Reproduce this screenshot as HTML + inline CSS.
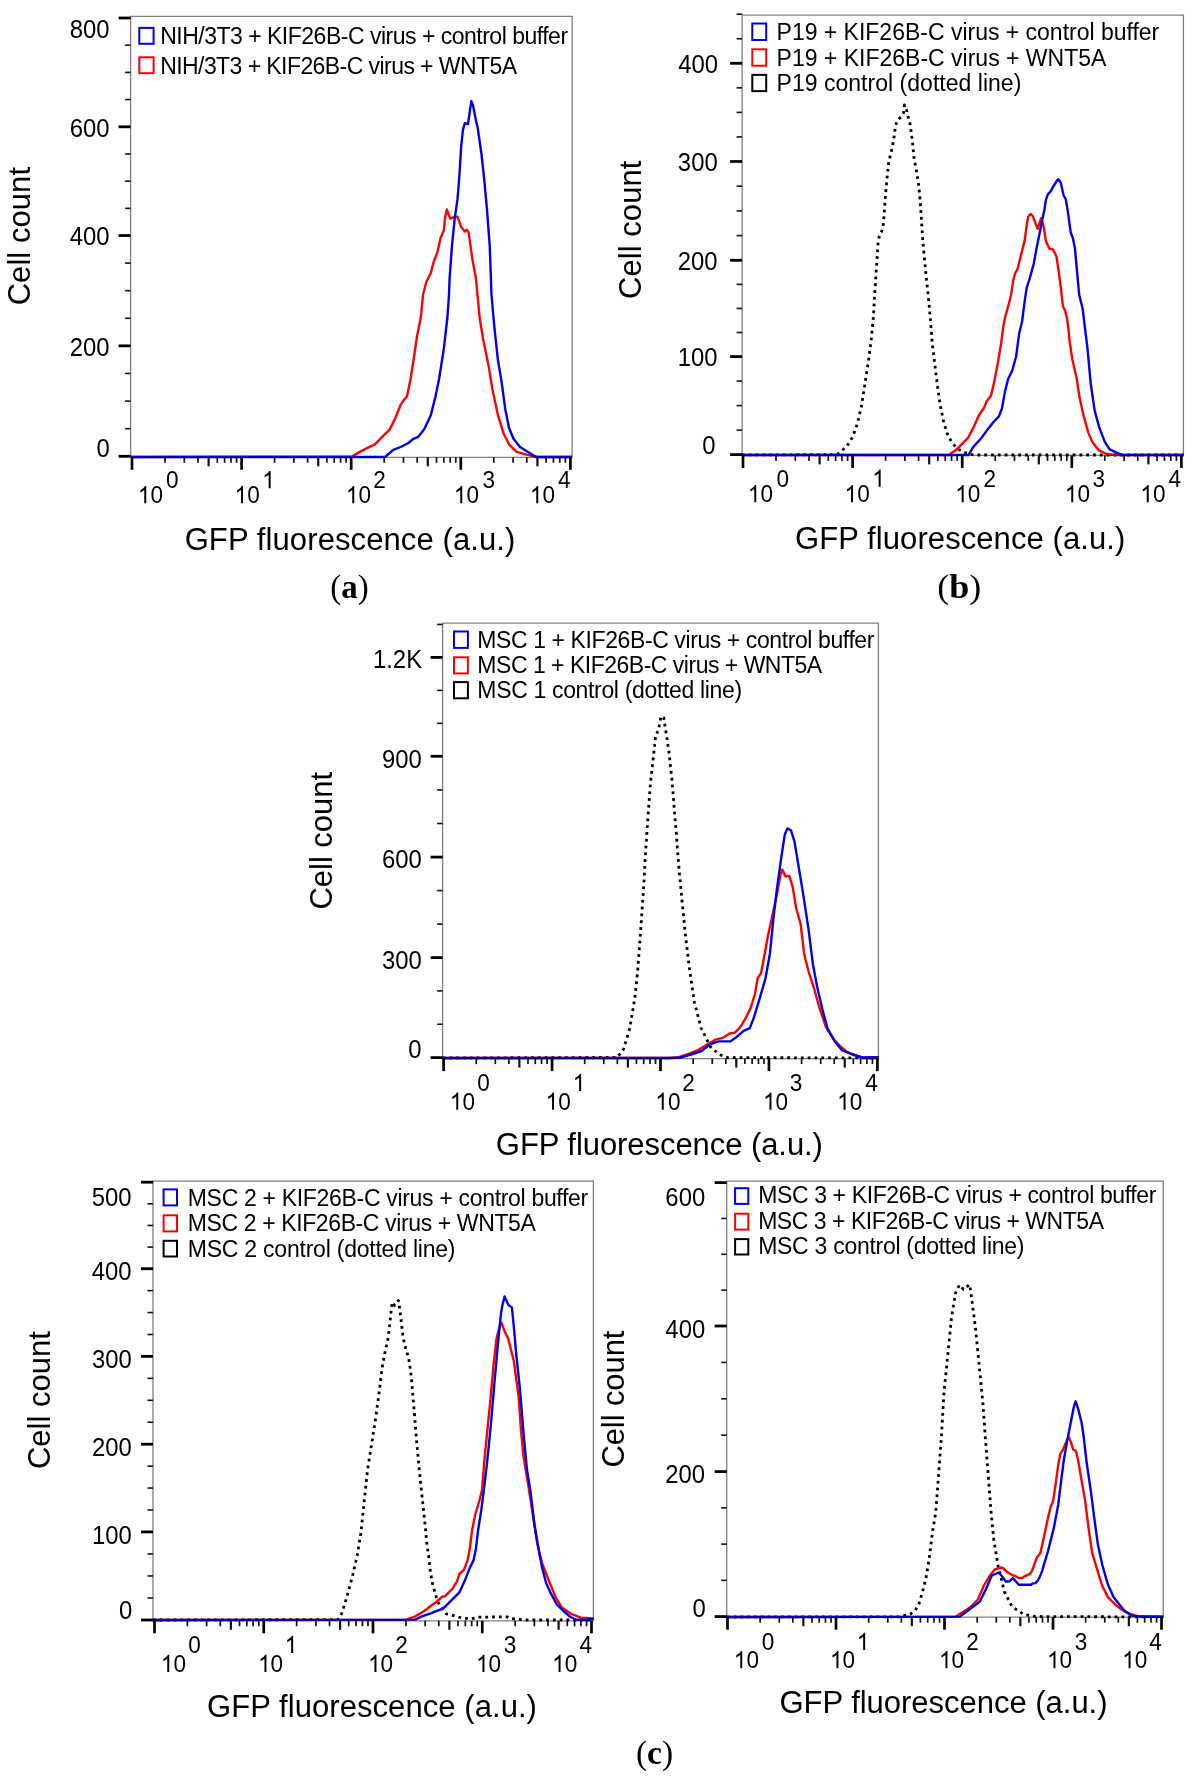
<!DOCTYPE html>
<html><head><meta charset="utf-8"><style>
html,body{margin:0;padding:0;background:#fff;}
svg{display:block;will-change:transform;}
text{font-family:"Liberation Sans", sans-serif;fill:#000;}
</style></head><body>
<svg width="1198" height="1778" viewBox="0 0 1198 1778">
<rect width="1198" height="1778" fill="#fff"/>
<polyline points="131,457 351.9,456.6 360.2,451.6 367.5,447.9 374.9,444.3 382.2,436.9 389.6,429.6 395.1,418.6 400.6,404.8 404.3,399.3 407,396.5 410.7,378.2 414.4,354.3 417.1,335.9 420.8,317.5 423,295 426.3,282 430.9,272.8 433.7,261.8 437.3,252.6 440.6,237.9 443.8,230.6 445,217.7 446.9,209.5 450.2,218.7 454.8,216.8 457.5,216.8 461.2,226.9 464.9,231.5 466.7,229.7 468.6,232.4 472.2,258.1 475.9,278.3 477.5,295 479.6,317.5 483.2,339.6 488.8,367.1 492.4,389.2 497.9,414.9 503.5,433.2 509,444.3 516.3,451.6 525.5,454.4 532.8,456.2 536.5,457 572,457" fill="none" stroke="#ff0000" stroke-width="2.4" stroke-linejoin="round" stroke-linecap="butt"/>
<polyline points="131,457 385,457 393.3,449.8 400.6,447 408,443.3 413.5,438.8 418.1,436.9 424.5,428.7 430.9,414.9 435.5,396.5 439.2,378.2 443.8,348.8 447.4,317.5 449,295 449.6,278.3 452,245.3 454.8,217.7 457.5,199.4 459.4,175.5 461.2,146.1 463,129.6 464.9,123.2 468,124 471.3,101.1 473.1,105.7 475.9,120.4 477.7,127.8 481.4,153.5 484.2,179.2 486.9,208.6 489.7,245.3 491.5,295 494.3,326.7 497.9,359.8 501.6,381.8 505.3,409.4 509,427.7 513.5,438.8 520,447 527.3,451.6 534.7,456.2 537,457 572,457" fill="none" stroke="#0000ee" stroke-width="2.4" stroke-linejoin="round" stroke-linecap="butt"/>
<path d="M130.6,457.3 V16.4 H572.1 V457.3 Z" fill="none" stroke="#000" stroke-opacity="0.5" stroke-width="1.3"/>
<line x1="118.6" y1="456.3" x2="130.6" y2="456.3" stroke="#000" stroke-width="2.8"/>
<line x1="125.1" y1="428.69" x2="130.6" y2="428.69" stroke="#111" stroke-width="1.6"/>
<line x1="125.1" y1="401.08" x2="130.6" y2="401.08" stroke="#111" stroke-width="1.6"/>
<line x1="125.1" y1="373.46" x2="130.6" y2="373.46" stroke="#111" stroke-width="1.6"/>
<line x1="118.6" y1="345.85" x2="130.6" y2="345.85" stroke="#000" stroke-width="2.8"/>
<line x1="125.1" y1="318.27" x2="130.6" y2="318.27" stroke="#111" stroke-width="1.6"/>
<line x1="125.1" y1="290.69" x2="130.6" y2="290.69" stroke="#111" stroke-width="1.6"/>
<line x1="125.1" y1="263.12" x2="130.6" y2="263.12" stroke="#111" stroke-width="1.6"/>
<line x1="118.6" y1="235.54" x2="130.6" y2="235.54" stroke="#000" stroke-width="2.8"/>
<line x1="125.1" y1="208.35" x2="130.6" y2="208.35" stroke="#111" stroke-width="1.6"/>
<line x1="125.1" y1="181.17" x2="130.6" y2="181.17" stroke="#111" stroke-width="1.6"/>
<line x1="125.1" y1="153.99" x2="130.6" y2="153.99" stroke="#111" stroke-width="1.6"/>
<line x1="118.6" y1="126.8" x2="130.6" y2="126.8" stroke="#000" stroke-width="2.8"/>
<line x1="125.1" y1="99.6" x2="130.6" y2="99.6" stroke="#111" stroke-width="1.6"/>
<line x1="125.1" y1="72.4" x2="130.6" y2="72.4" stroke="#111" stroke-width="1.6"/>
<line x1="125.1" y1="45.2" x2="130.6" y2="45.2" stroke="#111" stroke-width="1.6"/>
<line x1="118.6" y1="18" x2="130.6" y2="18" stroke="#000" stroke-width="2.8"/>
<line x1="132" y1="457.3" x2="132" y2="469.8" stroke="#000" stroke-width="2.7"/>
<line x1="164.99" y1="457.3" x2="164.99" y2="462.8" stroke="#111" stroke-width="1.7"/>
<line x1="184.29" y1="457.3" x2="184.29" y2="462.8" stroke="#111" stroke-width="1.7"/>
<line x1="197.99" y1="457.3" x2="197.99" y2="462.8" stroke="#111" stroke-width="1.7"/>
<line x1="208.61" y1="457.3" x2="208.61" y2="466.3" stroke="#111" stroke-width="2.2"/>
<line x1="217.29" y1="457.3" x2="217.29" y2="462.8" stroke="#111" stroke-width="1.7"/>
<line x1="224.62" y1="457.3" x2="224.62" y2="462.8" stroke="#111" stroke-width="1.7"/>
<line x1="230.98" y1="457.3" x2="230.98" y2="462.8" stroke="#111" stroke-width="1.7"/>
<line x1="236.58" y1="457.3" x2="236.58" y2="462.8" stroke="#111" stroke-width="1.7"/>
<line x1="241.6" y1="457.3" x2="241.6" y2="469.8" stroke="#000" stroke-width="2.7"/>
<line x1="274.59" y1="457.3" x2="274.59" y2="462.8" stroke="#111" stroke-width="1.7"/>
<line x1="293.89" y1="457.3" x2="293.89" y2="462.8" stroke="#111" stroke-width="1.7"/>
<line x1="307.59" y1="457.3" x2="307.59" y2="462.8" stroke="#111" stroke-width="1.7"/>
<line x1="318.21" y1="457.3" x2="318.21" y2="466.3" stroke="#111" stroke-width="2.2"/>
<line x1="326.89" y1="457.3" x2="326.89" y2="462.8" stroke="#111" stroke-width="1.7"/>
<line x1="334.22" y1="457.3" x2="334.22" y2="462.8" stroke="#111" stroke-width="1.7"/>
<line x1="340.58" y1="457.3" x2="340.58" y2="462.8" stroke="#111" stroke-width="1.7"/>
<line x1="346.18" y1="457.3" x2="346.18" y2="462.8" stroke="#111" stroke-width="1.7"/>
<line x1="351.2" y1="457.3" x2="351.2" y2="469.8" stroke="#000" stroke-width="2.7"/>
<line x1="384.19" y1="457.3" x2="384.19" y2="462.8" stroke="#111" stroke-width="1.7"/>
<line x1="403.49" y1="457.3" x2="403.49" y2="462.8" stroke="#111" stroke-width="1.7"/>
<line x1="417.19" y1="457.3" x2="417.19" y2="462.8" stroke="#111" stroke-width="1.7"/>
<line x1="427.81" y1="457.3" x2="427.81" y2="466.3" stroke="#111" stroke-width="2.2"/>
<line x1="436.49" y1="457.3" x2="436.49" y2="462.8" stroke="#111" stroke-width="1.7"/>
<line x1="443.82" y1="457.3" x2="443.82" y2="462.8" stroke="#111" stroke-width="1.7"/>
<line x1="450.18" y1="457.3" x2="450.18" y2="462.8" stroke="#111" stroke-width="1.7"/>
<line x1="455.78" y1="457.3" x2="455.78" y2="462.8" stroke="#111" stroke-width="1.7"/>
<line x1="460.8" y1="457.3" x2="460.8" y2="469.8" stroke="#000" stroke-width="2.7"/>
<line x1="493.79" y1="457.3" x2="493.79" y2="462.8" stroke="#111" stroke-width="1.7"/>
<line x1="513.09" y1="457.3" x2="513.09" y2="462.8" stroke="#111" stroke-width="1.7"/>
<line x1="526.79" y1="457.3" x2="526.79" y2="462.8" stroke="#111" stroke-width="1.7"/>
<line x1="537.41" y1="457.3" x2="537.41" y2="466.3" stroke="#111" stroke-width="2.2"/>
<line x1="546.09" y1="457.3" x2="546.09" y2="462.8" stroke="#111" stroke-width="1.7"/>
<line x1="553.42" y1="457.3" x2="553.42" y2="462.8" stroke="#111" stroke-width="1.7"/>
<line x1="559.78" y1="457.3" x2="559.78" y2="462.8" stroke="#111" stroke-width="1.7"/>
<line x1="565.38" y1="457.3" x2="565.38" y2="462.8" stroke="#111" stroke-width="1.7"/>
<line x1="570.4" y1="457.3" x2="570.4" y2="469.8" stroke="#000" stroke-width="2.7"/>
<text x="67.95" y="38.1" font-size="25" transform="translate(108.7,0) scale(0.955,1) translate(-108.7,0)" >800</text>
<text x="67.95" y="136.65" font-size="25" transform="translate(108.7,0) scale(0.955,1) translate(-108.7,0)" >600</text>
<text x="67.85" y="245.25" font-size="25" transform="translate(108.6,0) scale(0.955,1) translate(-108.6,0)" >400</text>
<text x="67.85" y="355.6" font-size="25" transform="translate(108.6,0) scale(0.955,1) translate(-108.6,0)" >200</text>
<text x="96" y="457.25" font-size="25" transform="translate(109,0) scale(0.955,1) translate(-109,0)" >0</text>
<g transform="translate(137.84,503.3) scale(0.94,1)">
<path d="M763,0 L583,0 L583,1147 Q518,1085 465,1054 Q412,1023 358.5,991.5 Q305,960 223,930 L223,1104 Q371,1174 482.5,1274 Q594,1374 640,1472 L763,1472 Z" transform="scale(0.01172,-0.01172)" fill="#000"/>
<text x="13.35" y="0" font-size="24">0</text>
</g>
<text x="166.04" y="488.2" font-size="24" transform="translate(167,0) scale(0.94,1) translate(-167,0)" >0</text>
<g transform="translate(234.64,503.3) scale(0.94,1)">
<path d="M763,0 L583,0 L583,1147 Q518,1085 465,1054 Q412,1023 358.5,991.5 Q305,960 223,930 L223,1104 Q371,1174 482.5,1274 Q594,1374 640,1472 L763,1472 Z" transform="scale(0.01172,-0.01172)" fill="#000"/>
<text x="13.35" y="0" font-size="24">0</text>
</g>
<g transform="translate(262.24,488.2) scale(0.94,1)">
<path d="M763,0 L583,0 L583,1147 Q518,1085 465,1054 Q412,1023 358.5,991.5 Q305,960 223,930 L223,1104 Q371,1174 482.5,1274 Q594,1374 640,1472 L763,1472 Z" transform="scale(0.01172,-0.01172)" fill="#000"/>
</g>
<g transform="translate(345.84,503.3) scale(0.94,1)">
<path d="M763,0 L583,0 L583,1147 Q518,1085 465,1054 Q412,1023 358.5,991.5 Q305,960 223,930 L223,1104 Q371,1174 482.5,1274 Q594,1374 640,1472 L763,1472 Z" transform="scale(0.01172,-0.01172)" fill="#000"/>
<text x="13.35" y="0" font-size="24">0</text>
</g>
<text x="373.3" y="488.2" font-size="24" transform="translate(374.5,0) scale(0.94,1) translate(-374.5,0)" >2</text>
<g transform="translate(453.84,503.3) scale(0.94,1)">
<path d="M763,0 L583,0 L583,1147 Q518,1085 465,1054 Q412,1023 358.5,991.5 Q305,960 223,930 L223,1104 Q371,1174 482.5,1274 Q594,1374 640,1472 L763,1472 Z" transform="scale(0.01172,-0.01172)" fill="#000"/>
<text x="13.35" y="0" font-size="24">0</text>
</g>
<text x="482.54" y="488.2" font-size="24" transform="translate(483.5,0) scale(0.94,1) translate(-483.5,0)" >3</text>
<g transform="translate(529.84,503.3) scale(0.94,1)">
<path d="M763,0 L583,0 L583,1147 Q518,1085 465,1054 Q412,1023 358.5,991.5 Q305,960 223,930 L223,1104 Q371,1174 482.5,1274 Q594,1374 640,1472 L763,1472 Z" transform="scale(0.01172,-0.01172)" fill="#000"/>
<text x="13.35" y="0" font-size="24">0</text>
</g>
<text x="558.02" y="488.2" font-size="24" transform="translate(558.5,0) scale(0.94,1) translate(-558.5,0)" >4</text>
<text x="184.65" y="550.1" font-size="31" textLength="330.69" lengthAdjust="spacing" >GFP fluorescence (a.u.)</text>
<text transform="translate(29.6,305.35) rotate(-90)" x="0" y="0" font-size="31" textLength="138.36" lengthAdjust="spacing">Cell count</text>
<rect x="139.3" y="27.9" width="14.3" height="15.9" fill="none" stroke="#0000ee" stroke-width="2.0"/>
<text x="160.16" y="43.8" font-size="23" textLength="407.91" lengthAdjust="spacing" >NIH/3T3 + KIF26B-C virus + control buffer</text>
<rect x="139.3" y="57.3" width="14.3" height="15.9" fill="none" stroke="#ff0000" stroke-width="2.0"/>
<text x="160.16" y="73.5" font-size="23" textLength="356.89" lengthAdjust="spacing" >NIH/3T3 + KIF26B-C virus + WNT5A</text>
<polyline points="742,455 837.4,454.6 840,452.3 846.7,446.3 852.7,436.9 857.4,423.6 861.4,406.2 865.4,380.8 868.7,359.4 871.4,338.1 873.4,316.7 874.6,295 875.4,283.7 876.8,262.3 878.1,242.3 879.4,235.6 882.8,228.9 884.1,215.5 885.4,195.5 886.8,180.8 888.8,160.8 890.8,154.1 893.5,140.8 895.5,126 897.5,120 901,117 903.5,113 904.4,105 906.8,111 908.1,116.7 910.2,124.7 912.2,139.4 914.2,159.4 916.8,172.8 918.8,186.2 920.2,200.9 921.5,220.9 922.8,240.9 924.8,262.3 926.8,282.3 928.2,295 930.2,316.7 932.2,343.4 934.9,364.8 937.5,386.2 940.2,404.9 943.5,420.9 946.9,432.9 951.6,442.3 957.6,448.9 964.2,452.3 969.6,454.3 975,455 1183.4,455" fill="none" stroke="#000" stroke-width="2.8" stroke-dasharray="2.8 4.0" stroke-linejoin="round"/>
<polyline points="742,455 948.7,455 955.9,450.1 962.2,443.7 967.8,438.2 973.3,427.9 978.9,415.2 984.4,407.2 986.8,400.9 990.8,396.1 993.9,383.4 997.9,362.8 1001.1,343.8 1003.5,325 1005.4,316.1 1008.2,306.2 1011.1,294.8 1013.2,280.6 1015.3,272.8 1017.5,269.3 1020.3,257.9 1022.4,249.4 1024.6,240.9 1026.7,225.3 1028.1,216.8 1030.7,213.9 1033.1,216.8 1035.2,222.4 1037.6,228.8 1041.2,218.2 1043.7,226.7 1045.9,240.9 1049.4,248.7 1052.9,249.4 1056.5,256.5 1058.6,270.7 1060.8,287.7 1062.9,306.2 1065,310.4 1067.1,318.9 1068.6,330 1069.3,339 1072.4,359.7 1076.4,377.1 1079.6,397.7 1083.5,415.2 1088.3,432.6 1092.3,442.1 1098.6,450.1 1106.5,454 1114.5,455 1183.4,455" fill="none" stroke="#ff0000" stroke-width="2.4" stroke-linejoin="round" stroke-linecap="butt"/>
<polyline points="742,455 968.5,455 973.3,446.9 981.2,438.2 987.6,429.4 993.9,421.5 998.7,416.7 1001.9,408.8 1005,391.4 1008.2,378.7 1012.2,370.8 1016.1,356.5 1019.3,332.7 1022,322 1024.6,301.9 1026.7,287.7 1029.5,279.2 1033.8,263.6 1036.6,248 1039.5,233.8 1042.3,219.6 1044.4,209.7 1045.9,199.7 1048,194.1 1050.8,191.2 1052.9,187 1056.5,181.3 1058.2,179.2 1060.8,182.7 1063.6,195.5 1065.7,199 1067.8,211.1 1070.7,232.4 1072.8,238 1074.9,248 1077.1,272.1 1079.2,294.8 1082.7,309 1084.6,325 1087.5,348.5 1090.7,383.4 1094.6,410.4 1099.4,427.9 1104.9,442.1 1109.7,449.3 1116,452.4 1122.4,455 1183.4,455" fill="none" stroke="#0000ee" stroke-width="2.4" stroke-linejoin="round" stroke-linecap="butt"/>
<path d="M742.1,455.4 V15.1 H1183.4 V455.4 Z" fill="none" stroke="#000" stroke-opacity="0.5" stroke-width="1.3"/>
<line x1="730.1" y1="454.6" x2="742.1" y2="454.6" stroke="#000" stroke-width="2.8"/>
<line x1="736.6" y1="430.1" x2="742.1" y2="430.1" stroke="#111" stroke-width="1.6"/>
<line x1="736.6" y1="405.6" x2="742.1" y2="405.6" stroke="#111" stroke-width="1.6"/>
<line x1="736.6" y1="381.1" x2="742.1" y2="381.1" stroke="#111" stroke-width="1.6"/>
<line x1="730.1" y1="356.6" x2="742.1" y2="356.6" stroke="#000" stroke-width="2.8"/>
<line x1="736.6" y1="332.53" x2="742.1" y2="332.53" stroke="#111" stroke-width="1.6"/>
<line x1="736.6" y1="308.45" x2="742.1" y2="308.45" stroke="#111" stroke-width="1.6"/>
<line x1="736.6" y1="284.38" x2="742.1" y2="284.38" stroke="#111" stroke-width="1.6"/>
<line x1="730.1" y1="260.3" x2="742.1" y2="260.3" stroke="#000" stroke-width="2.8"/>
<line x1="736.6" y1="235.6" x2="742.1" y2="235.6" stroke="#111" stroke-width="1.6"/>
<line x1="736.6" y1="210.9" x2="742.1" y2="210.9" stroke="#111" stroke-width="1.6"/>
<line x1="736.6" y1="186.2" x2="742.1" y2="186.2" stroke="#111" stroke-width="1.6"/>
<line x1="730.1" y1="161.5" x2="742.1" y2="161.5" stroke="#000" stroke-width="2.8"/>
<line x1="736.6" y1="136.95" x2="742.1" y2="136.95" stroke="#111" stroke-width="1.6"/>
<line x1="736.6" y1="112.4" x2="742.1" y2="112.4" stroke="#111" stroke-width="1.6"/>
<line x1="736.6" y1="87.85" x2="742.1" y2="87.85" stroke="#111" stroke-width="1.6"/>
<line x1="730.1" y1="63.3" x2="742.1" y2="63.3" stroke="#000" stroke-width="2.8"/>
<line x1="736.6" y1="38.75" x2="742.1" y2="38.75" stroke="#111" stroke-width="1.6"/>
<line x1="736.6" y1="14.2" x2="742.1" y2="14.2" stroke="#111" stroke-width="1.6"/>
<line x1="743" y1="455.4" x2="743" y2="467.9" stroke="#000" stroke-width="2.7"/>
<line x1="775.99" y1="455.4" x2="775.99" y2="460.9" stroke="#111" stroke-width="1.7"/>
<line x1="795.29" y1="455.4" x2="795.29" y2="460.9" stroke="#111" stroke-width="1.7"/>
<line x1="808.99" y1="455.4" x2="808.99" y2="460.9" stroke="#111" stroke-width="1.7"/>
<line x1="819.61" y1="455.4" x2="819.61" y2="464.4" stroke="#111" stroke-width="2.2"/>
<line x1="828.29" y1="455.4" x2="828.29" y2="460.9" stroke="#111" stroke-width="1.7"/>
<line x1="835.62" y1="455.4" x2="835.62" y2="460.9" stroke="#111" stroke-width="1.7"/>
<line x1="841.98" y1="455.4" x2="841.98" y2="460.9" stroke="#111" stroke-width="1.7"/>
<line x1="847.58" y1="455.4" x2="847.58" y2="460.9" stroke="#111" stroke-width="1.7"/>
<line x1="852.6" y1="455.4" x2="852.6" y2="467.9" stroke="#000" stroke-width="2.7"/>
<line x1="885.59" y1="455.4" x2="885.59" y2="460.9" stroke="#111" stroke-width="1.7"/>
<line x1="904.89" y1="455.4" x2="904.89" y2="460.9" stroke="#111" stroke-width="1.7"/>
<line x1="918.59" y1="455.4" x2="918.59" y2="460.9" stroke="#111" stroke-width="1.7"/>
<line x1="929.21" y1="455.4" x2="929.21" y2="464.4" stroke="#111" stroke-width="2.2"/>
<line x1="937.89" y1="455.4" x2="937.89" y2="460.9" stroke="#111" stroke-width="1.7"/>
<line x1="945.22" y1="455.4" x2="945.22" y2="460.9" stroke="#111" stroke-width="1.7"/>
<line x1="951.58" y1="455.4" x2="951.58" y2="460.9" stroke="#111" stroke-width="1.7"/>
<line x1="957.18" y1="455.4" x2="957.18" y2="460.9" stroke="#111" stroke-width="1.7"/>
<line x1="962.2" y1="455.4" x2="962.2" y2="467.9" stroke="#000" stroke-width="2.7"/>
<line x1="995.19" y1="455.4" x2="995.19" y2="460.9" stroke="#111" stroke-width="1.7"/>
<line x1="1014.49" y1="455.4" x2="1014.49" y2="460.9" stroke="#111" stroke-width="1.7"/>
<line x1="1028.19" y1="455.4" x2="1028.19" y2="460.9" stroke="#111" stroke-width="1.7"/>
<line x1="1038.81" y1="455.4" x2="1038.81" y2="464.4" stroke="#111" stroke-width="2.2"/>
<line x1="1047.49" y1="455.4" x2="1047.49" y2="460.9" stroke="#111" stroke-width="1.7"/>
<line x1="1054.82" y1="455.4" x2="1054.82" y2="460.9" stroke="#111" stroke-width="1.7"/>
<line x1="1061.18" y1="455.4" x2="1061.18" y2="460.9" stroke="#111" stroke-width="1.7"/>
<line x1="1066.78" y1="455.4" x2="1066.78" y2="460.9" stroke="#111" stroke-width="1.7"/>
<line x1="1071.8" y1="455.4" x2="1071.8" y2="467.9" stroke="#000" stroke-width="2.7"/>
<line x1="1104.79" y1="455.4" x2="1104.79" y2="460.9" stroke="#111" stroke-width="1.7"/>
<line x1="1124.09" y1="455.4" x2="1124.09" y2="460.9" stroke="#111" stroke-width="1.7"/>
<line x1="1137.79" y1="455.4" x2="1137.79" y2="460.9" stroke="#111" stroke-width="1.7"/>
<line x1="1148.41" y1="455.4" x2="1148.41" y2="464.4" stroke="#111" stroke-width="2.2"/>
<line x1="1157.09" y1="455.4" x2="1157.09" y2="460.9" stroke="#111" stroke-width="1.7"/>
<line x1="1164.42" y1="455.4" x2="1164.42" y2="460.9" stroke="#111" stroke-width="1.7"/>
<line x1="1170.78" y1="455.4" x2="1170.78" y2="460.9" stroke="#111" stroke-width="1.7"/>
<line x1="1176.38" y1="455.4" x2="1176.38" y2="460.9" stroke="#111" stroke-width="1.7"/>
<line x1="1181.4" y1="455.4" x2="1181.4" y2="467.9" stroke="#000" stroke-width="2.7"/>
<text x="676.45" y="73.25" font-size="25" transform="translate(717.2,0) scale(0.955,1) translate(-717.2,0)" >400</text>
<text x="676.05" y="171.25" font-size="25" transform="translate(716.8,0) scale(0.955,1) translate(-716.8,0)" >300</text>
<text x="675.95" y="270.25" font-size="25" transform="translate(716.7,0) scale(0.955,1) translate(-716.7,0)" >200</text>
<text x="675.95" y="366.45" font-size="25" transform="translate(716.7,0) scale(0.955,1) translate(-716.7,0)" >100</text>
<text x="701.7" y="453.95" font-size="25" transform="translate(714.7,0) scale(0.955,1) translate(-714.7,0)" >0</text>
<g transform="translate(747.84,502.3) scale(0.94,1)">
<path d="M763,0 L583,0 L583,1147 Q518,1085 465,1054 Q412,1023 358.5,991.5 Q305,960 223,930 L223,1104 Q371,1174 482.5,1274 Q594,1374 640,1472 L763,1472 Z" transform="scale(0.01172,-0.01172)" fill="#000"/>
<text x="13.35" y="0" font-size="24">0</text>
</g>
<text x="776.54" y="486.7" font-size="24" transform="translate(777.5,0) scale(0.94,1) translate(-777.5,0)" >0</text>
<g transform="translate(844.64,502.3) scale(0.94,1)">
<path d="M763,0 L583,0 L583,1147 Q518,1085 465,1054 Q412,1023 358.5,991.5 Q305,960 223,930 L223,1104 Q371,1174 482.5,1274 Q594,1374 640,1472 L763,1472 Z" transform="scale(0.01172,-0.01172)" fill="#000"/>
<text x="13.35" y="0" font-size="24">0</text>
</g>
<g transform="translate(872.24,486.7) scale(0.94,1)">
<path d="M763,0 L583,0 L583,1147 Q518,1085 465,1054 Q412,1023 358.5,991.5 Q305,960 223,930 L223,1104 Q371,1174 482.5,1274 Q594,1374 640,1472 L763,1472 Z" transform="scale(0.01172,-0.01172)" fill="#000"/>
</g>
<g transform="translate(955.24,502.3) scale(0.94,1)">
<path d="M763,0 L583,0 L583,1147 Q518,1085 465,1054 Q412,1023 358.5,991.5 Q305,960 223,930 L223,1104 Q371,1174 482.5,1274 Q594,1374 640,1472 L763,1472 Z" transform="scale(0.01172,-0.01172)" fill="#000"/>
<text x="13.35" y="0" font-size="24">0</text>
</g>
<text x="983.5" y="486.7" font-size="24" transform="translate(984.7,0) scale(0.94,1) translate(-984.7,0)" >2</text>
<g transform="translate(1064.84,502.3) scale(0.94,1)">
<path d="M763,0 L583,0 L583,1147 Q518,1085 465,1054 Q412,1023 358.5,991.5 Q305,960 223,930 L223,1104 Q371,1174 482.5,1274 Q594,1374 640,1472 L763,1472 Z" transform="scale(0.01172,-0.01172)" fill="#000"/>
<text x="13.35" y="0" font-size="24">0</text>
</g>
<text x="1092.34" y="486.7" font-size="24" transform="translate(1093.3,0) scale(0.94,1) translate(-1093.3,0)" >3</text>
<g transform="translate(1140.34,502.3) scale(0.94,1)">
<path d="M763,0 L583,0 L583,1147 Q518,1085 465,1054 Q412,1023 358.5,991.5 Q305,960 223,930 L223,1104 Q371,1174 482.5,1274 Q594,1374 640,1472 L763,1472 Z" transform="scale(0.01172,-0.01172)" fill="#000"/>
<text x="13.35" y="0" font-size="24">0</text>
</g>
<text x="1168.42" y="486.7" font-size="24" transform="translate(1168.9,0) scale(0.94,1) translate(-1168.9,0)" >4</text>
<text x="794.95" y="548.5" font-size="31" textLength="330.39" lengthAdjust="spacing" >GFP fluorescence (a.u.)</text>
<text transform="translate(641.3,299.05) rotate(-90)" x="0" y="0" font-size="31" textLength="138.46" lengthAdjust="spacing">Cell count</text>
<rect x="752.3" y="23.5" width="13.9" height="16.5" fill="none" stroke="#0000ee" stroke-width="2.0"/>
<text x="776.56" y="40.4" font-size="23" textLength="382.72" lengthAdjust="spacing" >P19 + KIF26B-C virus + control buffer</text>
<rect x="752.3" y="49.3" width="13.9" height="16.4" fill="none" stroke="#ff0000" stroke-width="2.0"/>
<text x="776.56" y="65.8" font-size="23" textLength="329.81" lengthAdjust="spacing" >P19 + KIF26B-C virus + WNT5A</text>
<rect x="752.3" y="74.9" width="13.9" height="16.2" fill="none" stroke="#000" stroke-width="2.0"/>
<text x="776.56" y="91.4" font-size="23" textLength="244.78" lengthAdjust="spacing" >P19 control (dotted line)</text>
<polyline points="442.6,1058 617.4,1057.4 623.6,1049 629.7,1028.5 634.9,997.7 638,966.9 641,925.8 643.1,895 644.2,878.2 645.2,857.4 646.6,837.2 647.5,823.5 648.5,809.8 649.5,796.2 650.5,782.5 652,769.3 653.5,755.7 655,742 655.6,735.4 658.4,730.4 659.6,723.8 661.1,716.2 663.7,717.7 664.7,724.3 666.9,738 668.9,751.6 670.4,765.3 671.8,778.5 673,792.1 674,805.8 675.1,819.5 676.3,833.1 677.3,846.8 678.3,860 679.5,874.1 681.6,896.3 685,931 689.5,969.4 694.5,1002.8 701.1,1028 710.3,1046.6 719.1,1054.5 727.8,1057.6 878.4,1058" fill="none" stroke="#000" stroke-width="2.8" stroke-dasharray="2.8 4.0" stroke-linejoin="round"/>
<polyline points="442.6,1058 670,1058 678.8,1057.1 689.3,1053.6 698,1050.1 705.1,1045.8 715.6,1039.6 722.6,1037.9 729.6,1033.5 734.9,1032.6 740.1,1027.4 745.4,1018.6 750.6,1008.1 755,994 757.6,978.3 761.1,973 764.7,953.7 768.2,934.5 771.7,918.7 777,894.1 780.4,874.9 782.2,869.6 785.7,876.6 789.2,875.7 792.7,887.1 796.2,908.2 800.6,923.9 804.1,953.7 808.5,971.3 813.7,987 819,1006.3 826,1027.4 833.9,1039.6 840,1045.8 847,1051.9 855.8,1055.4 862.8,1058 878.4,1058" fill="none" stroke="#ff0000" stroke-width="2.4" stroke-linejoin="round" stroke-linecap="butt"/>
<polyline points="442.6,1058 670,1058 680.5,1057.5 691,1054.5 701.6,1051 710.3,1044 719.1,1041.4 730.5,1041.4 736.6,1037 743.6,1030.9 749.8,1028.2 754.1,1016.8 759.4,999.3 765.5,978.3 769.9,953.7 773.4,918.7 776.9,888.9 781.3,857.3 784.8,834.5 787.4,828.4 790.9,830.2 794.5,841.6 798.8,867.8 803.2,894.1 808.5,929.2 812.9,964.2 817.2,987 822.5,1009.8 827.8,1029.1 834.8,1041.4 841.8,1050.1 852.3,1054.5 862.8,1057.5 869.8,1057.2 878.4,1057.2" fill="none" stroke="#0000ee" stroke-width="2.4" stroke-linejoin="round" stroke-linecap="butt"/>
<path d="M442.6,1058.6 V623.2 H878.4 V1058.6 Z" fill="none" stroke="#000" stroke-opacity="0.5" stroke-width="1.3"/>
<line x1="430.6" y1="1057.6" x2="442.6" y2="1057.6" stroke="#000" stroke-width="2.8"/>
<line x1="437.1" y1="1024.27" x2="442.6" y2="1024.27" stroke="#111" stroke-width="1.6"/>
<line x1="437.1" y1="990.93" x2="442.6" y2="990.93" stroke="#111" stroke-width="1.6"/>
<line x1="430.6" y1="957.6" x2="442.6" y2="957.6" stroke="#000" stroke-width="2.8"/>
<line x1="437.1" y1="924.1" x2="442.6" y2="924.1" stroke="#111" stroke-width="1.6"/>
<line x1="437.1" y1="890.6" x2="442.6" y2="890.6" stroke="#111" stroke-width="1.6"/>
<line x1="430.6" y1="857.1" x2="442.6" y2="857.1" stroke="#000" stroke-width="2.8"/>
<line x1="437.1" y1="823.5" x2="442.6" y2="823.5" stroke="#111" stroke-width="1.6"/>
<line x1="437.1" y1="789.9" x2="442.6" y2="789.9" stroke="#111" stroke-width="1.6"/>
<line x1="430.6" y1="756.3" x2="442.6" y2="756.3" stroke="#000" stroke-width="2.8"/>
<line x1="437.1" y1="723.33" x2="442.6" y2="723.33" stroke="#111" stroke-width="1.6"/>
<line x1="437.1" y1="690.37" x2="442.6" y2="690.37" stroke="#111" stroke-width="1.6"/>
<line x1="430.6" y1="657.4" x2="442.6" y2="657.4" stroke="#000" stroke-width="2.8"/>
<line x1="437.1" y1="624.43" x2="442.6" y2="624.43" stroke="#111" stroke-width="1.6"/>
<line x1="443.6" y1="1058.6" x2="443.6" y2="1071.1" stroke="#000" stroke-width="2.7"/>
<line x1="476.25" y1="1058.6" x2="476.25" y2="1064.1" stroke="#111" stroke-width="1.7"/>
<line x1="495.34" y1="1058.6" x2="495.34" y2="1064.1" stroke="#111" stroke-width="1.7"/>
<line x1="508.89" y1="1058.6" x2="508.89" y2="1064.1" stroke="#111" stroke-width="1.7"/>
<line x1="519.4" y1="1058.6" x2="519.4" y2="1067.6" stroke="#111" stroke-width="2.2"/>
<line x1="527.99" y1="1058.6" x2="527.99" y2="1064.1" stroke="#111" stroke-width="1.7"/>
<line x1="535.25" y1="1058.6" x2="535.25" y2="1064.1" stroke="#111" stroke-width="1.7"/>
<line x1="541.54" y1="1058.6" x2="541.54" y2="1064.1" stroke="#111" stroke-width="1.7"/>
<line x1="547.09" y1="1058.6" x2="547.09" y2="1064.1" stroke="#111" stroke-width="1.7"/>
<line x1="552.05" y1="1058.6" x2="552.05" y2="1071.1" stroke="#000" stroke-width="2.7"/>
<line x1="584.7" y1="1058.6" x2="584.7" y2="1064.1" stroke="#111" stroke-width="1.7"/>
<line x1="603.79" y1="1058.6" x2="603.79" y2="1064.1" stroke="#111" stroke-width="1.7"/>
<line x1="617.34" y1="1058.6" x2="617.34" y2="1064.1" stroke="#111" stroke-width="1.7"/>
<line x1="627.85" y1="1058.6" x2="627.85" y2="1067.6" stroke="#111" stroke-width="2.2"/>
<line x1="636.44" y1="1058.6" x2="636.44" y2="1064.1" stroke="#111" stroke-width="1.7"/>
<line x1="643.7" y1="1058.6" x2="643.7" y2="1064.1" stroke="#111" stroke-width="1.7"/>
<line x1="649.99" y1="1058.6" x2="649.99" y2="1064.1" stroke="#111" stroke-width="1.7"/>
<line x1="655.54" y1="1058.6" x2="655.54" y2="1064.1" stroke="#111" stroke-width="1.7"/>
<line x1="660.5" y1="1058.6" x2="660.5" y2="1071.1" stroke="#000" stroke-width="2.7"/>
<line x1="693.15" y1="1058.6" x2="693.15" y2="1064.1" stroke="#111" stroke-width="1.7"/>
<line x1="712.24" y1="1058.6" x2="712.24" y2="1064.1" stroke="#111" stroke-width="1.7"/>
<line x1="725.79" y1="1058.6" x2="725.79" y2="1064.1" stroke="#111" stroke-width="1.7"/>
<line x1="736.3" y1="1058.6" x2="736.3" y2="1067.6" stroke="#111" stroke-width="2.2"/>
<line x1="744.89" y1="1058.6" x2="744.89" y2="1064.1" stroke="#111" stroke-width="1.7"/>
<line x1="752.15" y1="1058.6" x2="752.15" y2="1064.1" stroke="#111" stroke-width="1.7"/>
<line x1="758.44" y1="1058.6" x2="758.44" y2="1064.1" stroke="#111" stroke-width="1.7"/>
<line x1="763.99" y1="1058.6" x2="763.99" y2="1064.1" stroke="#111" stroke-width="1.7"/>
<line x1="768.95" y1="1058.6" x2="768.95" y2="1071.1" stroke="#000" stroke-width="2.7"/>
<line x1="801.6" y1="1058.6" x2="801.6" y2="1064.1" stroke="#111" stroke-width="1.7"/>
<line x1="820.69" y1="1058.6" x2="820.69" y2="1064.1" stroke="#111" stroke-width="1.7"/>
<line x1="834.24" y1="1058.6" x2="834.24" y2="1064.1" stroke="#111" stroke-width="1.7"/>
<line x1="844.75" y1="1058.6" x2="844.75" y2="1067.6" stroke="#111" stroke-width="2.2"/>
<line x1="853.34" y1="1058.6" x2="853.34" y2="1064.1" stroke="#111" stroke-width="1.7"/>
<line x1="860.6" y1="1058.6" x2="860.6" y2="1064.1" stroke="#111" stroke-width="1.7"/>
<line x1="866.89" y1="1058.6" x2="866.89" y2="1064.1" stroke="#111" stroke-width="1.7"/>
<line x1="872.44" y1="1058.6" x2="872.44" y2="1064.1" stroke="#111" stroke-width="1.7"/>
<line x1="877.4" y1="1058.6" x2="877.4" y2="1071.1" stroke="#000" stroke-width="2.7"/>
<text x="370.68" y="668.45" font-size="25" transform="translate(421.8,0) scale(0.955,1) translate(-421.8,0)" >1.2K</text>
<text x="380.05" y="767.65" font-size="25" transform="translate(420.8,0) scale(0.955,1) translate(-420.8,0)" >900</text>
<text x="380.05" y="868.45" font-size="25" transform="translate(420.8,0) scale(0.955,1) translate(-420.8,0)" >600</text>
<text x="380.05" y="968.75" font-size="25" transform="translate(420.8,0) scale(0.955,1) translate(-420.8,0)" >300</text>
<text x="407.8" y="1057.55" font-size="25" transform="translate(420.8,0) scale(0.955,1) translate(-420.8,0)" >0</text>
<g transform="translate(449.84,1109.8) scale(0.94,1)">
<path d="M763,0 L583,0 L583,1147 Q518,1085 465,1054 Q412,1023 358.5,991.5 Q305,960 223,930 L223,1104 Q371,1174 482.5,1274 Q594,1374 640,1472 L763,1472 Z" transform="scale(0.01172,-0.01172)" fill="#000"/>
<text x="13.35" y="0" font-size="24">0</text>
</g>
<text x="477.24" y="1091" font-size="24" transform="translate(478.2,0) scale(0.94,1) translate(-478.2,0)" >0</text>
<g transform="translate(545.64,1109.8) scale(0.94,1)">
<path d="M763,0 L583,0 L583,1147 Q518,1085 465,1054 Q412,1023 358.5,991.5 Q305,960 223,930 L223,1104 Q371,1174 482.5,1274 Q594,1374 640,1472 L763,1472 Z" transform="scale(0.01172,-0.01172)" fill="#000"/>
<text x="13.35" y="0" font-size="24">0</text>
</g>
<g transform="translate(572.74,1091) scale(0.94,1)">
<path d="M763,0 L583,0 L583,1147 Q518,1085 465,1054 Q412,1023 358.5,991.5 Q305,960 223,930 L223,1104 Q371,1174 482.5,1274 Q594,1374 640,1472 L763,1472 Z" transform="scale(0.01172,-0.01172)" fill="#000"/>
</g>
<g transform="translate(655.34,1109.8) scale(0.94,1)">
<path d="M763,0 L583,0 L583,1147 Q518,1085 465,1054 Q412,1023 358.5,991.5 Q305,960 223,930 L223,1104 Q371,1174 482.5,1274 Q594,1374 640,1472 L763,1472 Z" transform="scale(0.01172,-0.01172)" fill="#000"/>
<text x="13.35" y="0" font-size="24">0</text>
</g>
<text x="682.3" y="1091" font-size="24" transform="translate(683.5,0) scale(0.94,1) translate(-683.5,0)" >2</text>
<g transform="translate(763.04,1109.8) scale(0.94,1)">
<path d="M763,0 L583,0 L583,1147 Q518,1085 465,1054 Q412,1023 358.5,991.5 Q305,960 223,930 L223,1104 Q371,1174 482.5,1274 Q594,1374 640,1472 L763,1472 Z" transform="scale(0.01172,-0.01172)" fill="#000"/>
<text x="13.35" y="0" font-size="24">0</text>
</g>
<text x="789.74" y="1091" font-size="24" transform="translate(790.7,0) scale(0.94,1) translate(-790.7,0)" >3</text>
<g transform="translate(837.14,1109.8) scale(0.94,1)">
<path d="M763,0 L583,0 L583,1147 Q518,1085 465,1054 Q412,1023 358.5,991.5 Q305,960 223,930 L223,1104 Q371,1174 482.5,1274 Q594,1374 640,1472 L763,1472 Z" transform="scale(0.01172,-0.01172)" fill="#000"/>
<text x="13.35" y="0" font-size="24">0</text>
</g>
<text x="865.32" y="1091" font-size="24" transform="translate(865.8,0) scale(0.94,1) translate(-865.8,0)" >4</text>
<text x="495.85" y="1154.5" font-size="31" textLength="327.09" lengthAdjust="spacing" >GFP fluorescence (a.u.)</text>
<text transform="translate(332.4,909.55) rotate(-90)" x="0" y="0" font-size="31" textLength="137.66" lengthAdjust="spacing">Cell count</text>
<rect x="454" y="631.5" width="13.9" height="16.4" fill="none" stroke="#0000ee" stroke-width="2.0"/>
<text x="477.36" y="648.1" font-size="23" textLength="397.07" lengthAdjust="spacing" >MSC 1 + KIF26B-C virus + control buffer</text>
<rect x="454" y="657.3" width="13.9" height="16.1" fill="none" stroke="#ff0000" stroke-width="2.0"/>
<text x="477.36" y="673.1" font-size="23" textLength="344.84" lengthAdjust="spacing" >MSC 1 + KIF26B-C virus + WNT5A</text>
<rect x="454" y="682.1" width="13.9" height="16.2" fill="none" stroke="#000" stroke-width="2.0"/>
<text x="477.36" y="697.7" font-size="23" textLength="264.72" lengthAdjust="spacing" >MSC 1 control (dotted line)</text>
<polyline points="153,1620 337.8,1619.6 341.6,1613.7 346.5,1598.2 352.3,1576.9 357.2,1555.5 361,1532.2 364,1503.1 367.5,1470 371.5,1445 376,1415.8 379.4,1390.4 381,1376.8 382.9,1363.2 385.5,1349.6 387.1,1343.2 388.4,1336.4 389.9,1322.8 391.3,1309.2 392.3,1302.1 394.6,1305.4 398.4,1300.5 399.9,1309.9 401.5,1323.8 403.1,1337.4 404.6,1344.1 406.3,1350.6 408.5,1357.1 410.6,1370.6 412,1384.2 413,1397.5 414.6,1415.8 416.6,1441 419.3,1470.1 422.2,1498 424,1514.7 425.5,1528.5 426.7,1542.1 428.6,1555.6 430.1,1569.1 432.3,1583 434.2,1589.8 436.1,1596.5 438.7,1603.3 446.2,1613.8 452.6,1615.3 458.6,1617.2 465,1618.3 471.7,1618.7 478.1,1617.2 507,1616.8 512,1618.7 525,1620 593.4,1620" fill="none" stroke="#000" stroke-width="2.8" stroke-dasharray="2.8 4.0" stroke-linejoin="round"/>
<polyline points="153,1620 406,1619.6 413.5,1617.2 420.3,1613.4 425.5,1610.1 431.6,1605.2 436.1,1602.2 442.4,1596.5 445.1,1596.2 452.6,1588.7 457.1,1581.1 459.4,1574 463.9,1569.9 467.6,1560.1 469.9,1548.1 472.1,1530.1 475.1,1515 479.6,1500 482,1490 484.9,1454.7 489.8,1406.1 493.7,1363.4 496.6,1338.2 499.5,1326.6 501.5,1322.7 504.6,1331.4 508.1,1338.4 514,1361.8 518.6,1396.8 521,1430 523.3,1455.3 528,1483.3 532.7,1513.7 537.5,1545 542.4,1564 549.1,1581.3 555.8,1597.6 561.6,1607.2 571.2,1613.9 580.8,1617.7 590.4,1618.2 593.4,1618.5" fill="none" stroke="#ff0000" stroke-width="2.4" stroke-linejoin="round" stroke-linecap="butt"/>
<polyline points="153,1620 415,1619.6 422.5,1616.1 430.8,1613.4 436.1,1611.2 442.1,1609 445.1,1606.7 452.6,1599.2 459.4,1592.4 464.6,1581.1 469.9,1567.6 473.6,1560.1 475.9,1548.8 478.1,1530.1 481.1,1511.3 482.6,1500 486.9,1464.4 490.8,1425.5 494.6,1380.9 498.5,1338.2 501.1,1312.7 502.4,1305.2 504.6,1296.4 508.5,1305 511.9,1307.5 514,1328.5 516,1351.8 519.9,1388.7 523.7,1435 527,1470 530.3,1490 534.5,1525 539.5,1554.4 542.4,1568.8 546.2,1583.2 551,1593.7 556.8,1604.3 563.5,1611 570.2,1616.8 576,1619.7 585.6,1619.7 593.4,1619" fill="none" stroke="#0000ee" stroke-width="2.4" stroke-linejoin="round" stroke-linecap="butt"/>
<path d="M153,1620.8 V1181.1 H593.4 V1620.8 Z" fill="none" stroke="#000" stroke-opacity="0.5" stroke-width="1.3"/>
<line x1="141" y1="1620" x2="153" y2="1620" stroke="#000" stroke-width="2.8"/>
<line x1="147.5" y1="1597.97" x2="153" y2="1597.97" stroke="#111" stroke-width="1.6"/>
<line x1="147.5" y1="1575.95" x2="153" y2="1575.95" stroke="#111" stroke-width="1.6"/>
<line x1="147.5" y1="1553.93" x2="153" y2="1553.93" stroke="#111" stroke-width="1.6"/>
<line x1="141" y1="1531.9" x2="153" y2="1531.9" stroke="#000" stroke-width="2.8"/>
<line x1="147.5" y1="1509.98" x2="153" y2="1509.98" stroke="#111" stroke-width="1.6"/>
<line x1="147.5" y1="1488.05" x2="153" y2="1488.05" stroke="#111" stroke-width="1.6"/>
<line x1="147.5" y1="1466.12" x2="153" y2="1466.12" stroke="#111" stroke-width="1.6"/>
<line x1="141" y1="1444.2" x2="153" y2="1444.2" stroke="#000" stroke-width="2.8"/>
<line x1="147.5" y1="1422.25" x2="153" y2="1422.25" stroke="#111" stroke-width="1.6"/>
<line x1="147.5" y1="1400.3" x2="153" y2="1400.3" stroke="#111" stroke-width="1.6"/>
<line x1="147.5" y1="1378.35" x2="153" y2="1378.35" stroke="#111" stroke-width="1.6"/>
<line x1="141" y1="1356.4" x2="153" y2="1356.4" stroke="#000" stroke-width="2.8"/>
<line x1="147.5" y1="1334.48" x2="153" y2="1334.48" stroke="#111" stroke-width="1.6"/>
<line x1="147.5" y1="1312.55" x2="153" y2="1312.55" stroke="#111" stroke-width="1.6"/>
<line x1="147.5" y1="1290.62" x2="153" y2="1290.62" stroke="#111" stroke-width="1.6"/>
<line x1="141" y1="1268.7" x2="153" y2="1268.7" stroke="#000" stroke-width="2.8"/>
<line x1="147.5" y1="1247.08" x2="153" y2="1247.08" stroke="#111" stroke-width="1.6"/>
<line x1="147.5" y1="1225.45" x2="153" y2="1225.45" stroke="#111" stroke-width="1.6"/>
<line x1="147.5" y1="1203.83" x2="153" y2="1203.83" stroke="#111" stroke-width="1.6"/>
<line x1="141" y1="1182.2" x2="153" y2="1182.2" stroke="#000" stroke-width="2.8"/>
<line x1="154.5" y1="1620.8" x2="154.5" y2="1633.3" stroke="#000" stroke-width="2.7"/>
<line x1="187.39" y1="1620.8" x2="187.39" y2="1626.3" stroke="#111" stroke-width="1.7"/>
<line x1="206.63" y1="1620.8" x2="206.63" y2="1626.3" stroke="#111" stroke-width="1.7"/>
<line x1="220.28" y1="1620.8" x2="220.28" y2="1626.3" stroke="#111" stroke-width="1.7"/>
<line x1="230.86" y1="1620.8" x2="230.86" y2="1629.8" stroke="#111" stroke-width="2.2"/>
<line x1="239.51" y1="1620.8" x2="239.51" y2="1626.3" stroke="#111" stroke-width="1.7"/>
<line x1="246.83" y1="1620.8" x2="246.83" y2="1626.3" stroke="#111" stroke-width="1.7"/>
<line x1="253.16" y1="1620.8" x2="253.16" y2="1626.3" stroke="#111" stroke-width="1.7"/>
<line x1="258.75" y1="1620.8" x2="258.75" y2="1626.3" stroke="#111" stroke-width="1.7"/>
<line x1="263.75" y1="1620.8" x2="263.75" y2="1633.3" stroke="#000" stroke-width="2.7"/>
<line x1="296.64" y1="1620.8" x2="296.64" y2="1626.3" stroke="#111" stroke-width="1.7"/>
<line x1="315.88" y1="1620.8" x2="315.88" y2="1626.3" stroke="#111" stroke-width="1.7"/>
<line x1="329.53" y1="1620.8" x2="329.53" y2="1626.3" stroke="#111" stroke-width="1.7"/>
<line x1="340.11" y1="1620.8" x2="340.11" y2="1629.8" stroke="#111" stroke-width="2.2"/>
<line x1="348.76" y1="1620.8" x2="348.76" y2="1626.3" stroke="#111" stroke-width="1.7"/>
<line x1="356.08" y1="1620.8" x2="356.08" y2="1626.3" stroke="#111" stroke-width="1.7"/>
<line x1="362.41" y1="1620.8" x2="362.41" y2="1626.3" stroke="#111" stroke-width="1.7"/>
<line x1="368" y1="1620.8" x2="368" y2="1626.3" stroke="#111" stroke-width="1.7"/>
<line x1="373" y1="1620.8" x2="373" y2="1633.3" stroke="#000" stroke-width="2.7"/>
<line x1="405.89" y1="1620.8" x2="405.89" y2="1626.3" stroke="#111" stroke-width="1.7"/>
<line x1="425.13" y1="1620.8" x2="425.13" y2="1626.3" stroke="#111" stroke-width="1.7"/>
<line x1="438.78" y1="1620.8" x2="438.78" y2="1626.3" stroke="#111" stroke-width="1.7"/>
<line x1="449.36" y1="1620.8" x2="449.36" y2="1629.8" stroke="#111" stroke-width="2.2"/>
<line x1="458.01" y1="1620.8" x2="458.01" y2="1626.3" stroke="#111" stroke-width="1.7"/>
<line x1="465.33" y1="1620.8" x2="465.33" y2="1626.3" stroke="#111" stroke-width="1.7"/>
<line x1="471.66" y1="1620.8" x2="471.66" y2="1626.3" stroke="#111" stroke-width="1.7"/>
<line x1="477.25" y1="1620.8" x2="477.25" y2="1626.3" stroke="#111" stroke-width="1.7"/>
<line x1="482.25" y1="1620.8" x2="482.25" y2="1633.3" stroke="#000" stroke-width="2.7"/>
<line x1="515.14" y1="1620.8" x2="515.14" y2="1626.3" stroke="#111" stroke-width="1.7"/>
<line x1="534.38" y1="1620.8" x2="534.38" y2="1626.3" stroke="#111" stroke-width="1.7"/>
<line x1="548.03" y1="1620.8" x2="548.03" y2="1626.3" stroke="#111" stroke-width="1.7"/>
<line x1="558.61" y1="1620.8" x2="558.61" y2="1629.8" stroke="#111" stroke-width="2.2"/>
<line x1="567.26" y1="1620.8" x2="567.26" y2="1626.3" stroke="#111" stroke-width="1.7"/>
<line x1="574.58" y1="1620.8" x2="574.58" y2="1626.3" stroke="#111" stroke-width="1.7"/>
<line x1="580.91" y1="1620.8" x2="580.91" y2="1626.3" stroke="#111" stroke-width="1.7"/>
<line x1="586.5" y1="1620.8" x2="586.5" y2="1626.3" stroke="#111" stroke-width="1.7"/>
<line x1="591.5" y1="1620.8" x2="591.5" y2="1633.3" stroke="#000" stroke-width="2.7"/>
<text x="89.95" y="1206.25" font-size="25" transform="translate(130.7,0) scale(0.955,1) translate(-130.7,0)" >500</text>
<text x="89.95" y="1280.35" font-size="25" transform="translate(130.7,0) scale(0.955,1) translate(-130.7,0)" >400</text>
<text x="90.05" y="1368.15" font-size="25" transform="translate(130.8,0) scale(0.955,1) translate(-130.8,0)" >300</text>
<text x="90.05" y="1456.25" font-size="25" transform="translate(130.8,0) scale(0.955,1) translate(-130.8,0)" >200</text>
<text x="90.05" y="1543.95" font-size="25" transform="translate(130.8,0) scale(0.955,1) translate(-130.8,0)" >100</text>
<text x="118.4" y="1619.05" font-size="25" transform="translate(131.4,0) scale(0.955,1) translate(-131.4,0)" >0</text>
<g transform="translate(160.84,1672) scale(0.94,1)">
<path d="M763,0 L583,0 L583,1147 Q518,1085 465,1054 Q412,1023 358.5,991.5 Q305,960 223,930 L223,1104 Q371,1174 482.5,1274 Q594,1374 640,1472 L763,1472 Z" transform="scale(0.01172,-0.01172)" fill="#000"/>
<text x="13.35" y="0" font-size="24">0</text>
</g>
<text x="188.24" y="1653" font-size="24" transform="translate(189.2,0) scale(0.94,1) translate(-189.2,0)" >0</text>
<g transform="translate(258.04,1672) scale(0.94,1)">
<path d="M763,0 L583,0 L583,1147 Q518,1085 465,1054 Q412,1023 358.5,991.5 Q305,960 223,930 L223,1104 Q371,1174 482.5,1274 Q594,1374 640,1472 L763,1472 Z" transform="scale(0.01172,-0.01172)" fill="#000"/>
<text x="13.35" y="0" font-size="24">0</text>
</g>
<g transform="translate(284.74,1653) scale(0.94,1)">
<path d="M763,0 L583,0 L583,1147 Q518,1085 465,1054 Q412,1023 358.5,991.5 Q305,960 223,930 L223,1104 Q371,1174 482.5,1274 Q594,1374 640,1472 L763,1472 Z" transform="scale(0.01172,-0.01172)" fill="#000"/>
</g>
<g transform="translate(368.04,1672) scale(0.94,1)">
<path d="M763,0 L583,0 L583,1147 Q518,1085 465,1054 Q412,1023 358.5,991.5 Q305,960 223,930 L223,1104 Q371,1174 482.5,1274 Q594,1374 640,1472 L763,1472 Z" transform="scale(0.01172,-0.01172)" fill="#000"/>
<text x="13.35" y="0" font-size="24">0</text>
</g>
<text x="395.3" y="1653" font-size="24" transform="translate(396.5,0) scale(0.94,1) translate(-396.5,0)" >2</text>
<g transform="translate(476.04,1672) scale(0.94,1)">
<path d="M763,0 L583,0 L583,1147 Q518,1085 465,1054 Q412,1023 358.5,991.5 Q305,960 223,930 L223,1104 Q371,1174 482.5,1274 Q594,1374 640,1472 L763,1472 Z" transform="scale(0.01172,-0.01172)" fill="#000"/>
<text x="13.35" y="0" font-size="24">0</text>
</g>
<text x="503.74" y="1653" font-size="24" transform="translate(504.7,0) scale(0.94,1) translate(-504.7,0)" >3</text>
<g transform="translate(552.14,1672) scale(0.94,1)">
<path d="M763,0 L583,0 L583,1147 Q518,1085 465,1054 Q412,1023 358.5,991.5 Q305,960 223,930 L223,1104 Q371,1174 482.5,1274 Q594,1374 640,1472 L763,1472 Z" transform="scale(0.01172,-0.01172)" fill="#000"/>
<text x="13.35" y="0" font-size="24">0</text>
</g>
<text x="579.42" y="1653" font-size="24" transform="translate(579.9,0) scale(0.94,1) translate(-579.9,0)" >4</text>
<text x="207.05" y="1716.6" font-size="31" textLength="329.89" lengthAdjust="spacing" >GFP fluorescence (a.u.)</text>
<text transform="translate(49.6,1469.05) rotate(-90)" x="0" y="0" font-size="31" textLength="137.96" lengthAdjust="spacing">Cell count</text>
<rect x="163.6" y="1189.4" width="13.4" height="16" fill="none" stroke="#0000ee" stroke-width="2.0"/>
<text x="187.76" y="1205.7" font-size="23" textLength="400.47" lengthAdjust="spacing" >MSC 2 + KIF26B-C virus + control buffer</text>
<rect x="163.6" y="1215.3" width="13.4" height="16.1" fill="none" stroke="#ff0000" stroke-width="2.0"/>
<text x="187.76" y="1231.3" font-size="23" textLength="348.04" lengthAdjust="spacing" >MSC 2 + KIF26B-C virus + WNT5A</text>
<rect x="163.6" y="1240.8" width="13.4" height="15.7" fill="none" stroke="#000" stroke-width="2.0"/>
<text x="187.76" y="1256.6" font-size="23" textLength="267.72" lengthAdjust="spacing" >MSC 2 control (dotted line)</text>
<polyline points="726.7,1617 900,1616.8 904.2,1615.6 910.2,1614.1 915.3,1610.2 918.7,1604.5 922.6,1591.6 926,1578.1 929.3,1557.9 932.6,1531 935.8,1512.1 938.5,1475.8 941.2,1439.5 944.1,1391 947.8,1354.7 951.4,1318.4 955.5,1293 959.5,1284.8 963.5,1289.4 969.6,1284.5 970.8,1291.8 975.2,1325.5 979.3,1366.8 982.9,1403.1 985.9,1445 988.6,1480 990.9,1510 993.8,1540 998.2,1566.5 1004.5,1592 1012,1606.7 1024,1614.5 1035.5,1616.5 1163.2,1617" fill="none" stroke="#000" stroke-width="2.8" stroke-dasharray="2.8 4.0" stroke-linejoin="round"/>
<polyline points="726.7,1617 955.9,1616.6 969.9,1607.5 977.9,1599.5 983.9,1585.5 989.8,1575.5 994.8,1569.5 1000.8,1567.5 1002.8,1568 1008.5,1573 1012,1574.8 1015.8,1576.4 1018.2,1577.8 1022.3,1578.1 1024,1576.6 1027.5,1574.9 1029.9,1574 1031.9,1571.1 1033.4,1567.3 1034.8,1562.9 1036.9,1557.4 1040.4,1553.1 1042.6,1543.2 1046.8,1523.3 1050.4,1507.7 1053.2,1500.6 1055.3,1486.4 1058.2,1465.1 1060.3,1453.8 1063.1,1449.5 1066,1442.4 1068.8,1436.8 1071,1442.4 1073.1,1449.5 1075.9,1451 1078,1459.5 1080.9,1476.5 1085.1,1500.6 1088.7,1529 1092.2,1553.1 1096.5,1567.3 1102.2,1585.8 1107.8,1597.1 1114.9,1604.2 1122,1609.9 1130.6,1614.1 1139.1,1616.3 1163.2,1616.8" fill="none" stroke="#ff0000" stroke-width="2.4" stroke-linejoin="round" stroke-linecap="butt"/>
<polyline points="726.7,1617 959.9,1616.6 971.9,1607.5 979.9,1601.5 985.8,1589.5 991.8,1575.5 998.8,1572.5 1002.8,1577.2 1005.7,1581.5 1009.2,1581.5 1012.8,1578 1018.8,1584.8 1031,1584.8 1032.8,1583.4 1035.4,1583.1 1037.8,1580.5 1039.2,1578.1 1040.7,1574.6 1042.1,1571.1 1043.6,1565.8 1048.2,1550.3 1053.9,1527.6 1058.2,1504.9 1061,1482.2 1063.9,1459.5 1067.4,1439.6 1071,1421.2 1073.8,1407 1075.6,1401.3 1078,1408.4 1081.6,1422.6 1083.7,1436.8 1086.6,1462.3 1090.8,1490.7 1094.4,1519.1 1097.9,1544.6 1102.2,1564.5 1107.8,1584.3 1113.5,1597.1 1119.2,1604.2 1124.9,1611.3 1132,1615.6 1141.9,1616.8 1163.2,1616.8" fill="none" stroke="#0000ee" stroke-width="2.4" stroke-linejoin="round" stroke-linecap="butt"/>
<path d="M726.7,1617.2 V1181.1 H1163.2 V1617.2 Z" fill="none" stroke="#000" stroke-opacity="0.5" stroke-width="1.3"/>
<line x1="714.7" y1="1616.6" x2="726.7" y2="1616.6" stroke="#000" stroke-width="2.8"/>
<line x1="721.2" y1="1580.35" x2="726.7" y2="1580.35" stroke="#111" stroke-width="1.6"/>
<line x1="721.2" y1="1544.1" x2="726.7" y2="1544.1" stroke="#111" stroke-width="1.6"/>
<line x1="721.2" y1="1507.85" x2="726.7" y2="1507.85" stroke="#111" stroke-width="1.6"/>
<line x1="714.7" y1="1471.6" x2="726.7" y2="1471.6" stroke="#000" stroke-width="2.8"/>
<line x1="721.2" y1="1435.2" x2="726.7" y2="1435.2" stroke="#111" stroke-width="1.6"/>
<line x1="721.2" y1="1398.8" x2="726.7" y2="1398.8" stroke="#111" stroke-width="1.6"/>
<line x1="721.2" y1="1362.4" x2="726.7" y2="1362.4" stroke="#111" stroke-width="1.6"/>
<line x1="714.7" y1="1326" x2="726.7" y2="1326" stroke="#000" stroke-width="2.8"/>
<line x1="721.2" y1="1290.15" x2="726.7" y2="1290.15" stroke="#111" stroke-width="1.6"/>
<line x1="721.2" y1="1254.3" x2="726.7" y2="1254.3" stroke="#111" stroke-width="1.6"/>
<line x1="721.2" y1="1218.45" x2="726.7" y2="1218.45" stroke="#111" stroke-width="1.6"/>
<line x1="714.7" y1="1182.6" x2="726.7" y2="1182.6" stroke="#000" stroke-width="2.8"/>
<line x1="727.5" y1="1617.2" x2="727.5" y2="1629.7" stroke="#000" stroke-width="2.7"/>
<line x1="760.16" y1="1617.2" x2="760.16" y2="1622.7" stroke="#111" stroke-width="1.7"/>
<line x1="779.27" y1="1617.2" x2="779.27" y2="1622.7" stroke="#111" stroke-width="1.7"/>
<line x1="792.82" y1="1617.2" x2="792.82" y2="1622.7" stroke="#111" stroke-width="1.7"/>
<line x1="803.34" y1="1617.2" x2="803.34" y2="1626.2" stroke="#111" stroke-width="2.2"/>
<line x1="811.93" y1="1617.2" x2="811.93" y2="1622.7" stroke="#111" stroke-width="1.7"/>
<line x1="819.19" y1="1617.2" x2="819.19" y2="1622.7" stroke="#111" stroke-width="1.7"/>
<line x1="825.49" y1="1617.2" x2="825.49" y2="1622.7" stroke="#111" stroke-width="1.7"/>
<line x1="831.04" y1="1617.2" x2="831.04" y2="1622.7" stroke="#111" stroke-width="1.7"/>
<line x1="836" y1="1617.2" x2="836" y2="1629.7" stroke="#000" stroke-width="2.7"/>
<line x1="868.66" y1="1617.2" x2="868.66" y2="1622.7" stroke="#111" stroke-width="1.7"/>
<line x1="887.77" y1="1617.2" x2="887.77" y2="1622.7" stroke="#111" stroke-width="1.7"/>
<line x1="901.32" y1="1617.2" x2="901.32" y2="1622.7" stroke="#111" stroke-width="1.7"/>
<line x1="911.84" y1="1617.2" x2="911.84" y2="1626.2" stroke="#111" stroke-width="2.2"/>
<line x1="920.43" y1="1617.2" x2="920.43" y2="1622.7" stroke="#111" stroke-width="1.7"/>
<line x1="927.69" y1="1617.2" x2="927.69" y2="1622.7" stroke="#111" stroke-width="1.7"/>
<line x1="933.99" y1="1617.2" x2="933.99" y2="1622.7" stroke="#111" stroke-width="1.7"/>
<line x1="939.54" y1="1617.2" x2="939.54" y2="1622.7" stroke="#111" stroke-width="1.7"/>
<line x1="944.5" y1="1617.2" x2="944.5" y2="1629.7" stroke="#000" stroke-width="2.7"/>
<line x1="977.16" y1="1617.2" x2="977.16" y2="1622.7" stroke="#111" stroke-width="1.7"/>
<line x1="996.27" y1="1617.2" x2="996.27" y2="1622.7" stroke="#111" stroke-width="1.7"/>
<line x1="1009.82" y1="1617.2" x2="1009.82" y2="1622.7" stroke="#111" stroke-width="1.7"/>
<line x1="1020.34" y1="1617.2" x2="1020.34" y2="1626.2" stroke="#111" stroke-width="2.2"/>
<line x1="1028.93" y1="1617.2" x2="1028.93" y2="1622.7" stroke="#111" stroke-width="1.7"/>
<line x1="1036.19" y1="1617.2" x2="1036.19" y2="1622.7" stroke="#111" stroke-width="1.7"/>
<line x1="1042.49" y1="1617.2" x2="1042.49" y2="1622.7" stroke="#111" stroke-width="1.7"/>
<line x1="1048.04" y1="1617.2" x2="1048.04" y2="1622.7" stroke="#111" stroke-width="1.7"/>
<line x1="1053" y1="1617.2" x2="1053" y2="1629.7" stroke="#000" stroke-width="2.7"/>
<line x1="1085.66" y1="1617.2" x2="1085.66" y2="1622.7" stroke="#111" stroke-width="1.7"/>
<line x1="1104.77" y1="1617.2" x2="1104.77" y2="1622.7" stroke="#111" stroke-width="1.7"/>
<line x1="1118.32" y1="1617.2" x2="1118.32" y2="1622.7" stroke="#111" stroke-width="1.7"/>
<line x1="1128.84" y1="1617.2" x2="1128.84" y2="1626.2" stroke="#111" stroke-width="2.2"/>
<line x1="1137.43" y1="1617.2" x2="1137.43" y2="1622.7" stroke="#111" stroke-width="1.7"/>
<line x1="1144.69" y1="1617.2" x2="1144.69" y2="1622.7" stroke="#111" stroke-width="1.7"/>
<line x1="1150.99" y1="1617.2" x2="1150.99" y2="1622.7" stroke="#111" stroke-width="1.7"/>
<line x1="1156.54" y1="1617.2" x2="1156.54" y2="1622.7" stroke="#111" stroke-width="1.7"/>
<line x1="1161.5" y1="1617.2" x2="1161.5" y2="1629.7" stroke="#000" stroke-width="2.7"/>
<text x="663.55" y="1206.25" font-size="25" transform="translate(704.3,0) scale(0.955,1) translate(-704.3,0)" >600</text>
<text x="663.55" y="1338.05" font-size="25" transform="translate(704.3,0) scale(0.955,1) translate(-704.3,0)" >400</text>
<text x="663.35" y="1483.15" font-size="25" transform="translate(704.1,0) scale(0.955,1) translate(-704.1,0)" >200</text>
<text x="691.8" y="1616.75" font-size="25" transform="translate(704.8,0) scale(0.955,1) translate(-704.8,0)" >0</text>
<g transform="translate(733.84,1668.3) scale(0.94,1)">
<path d="M763,0 L583,0 L583,1147 Q518,1085 465,1054 Q412,1023 358.5,991.5 Q305,960 223,930 L223,1104 Q371,1174 482.5,1274 Q594,1374 640,1472 L763,1472 Z" transform="scale(0.01172,-0.01172)" fill="#000"/>
<text x="13.35" y="0" font-size="24">0</text>
</g>
<text x="761.64" y="1650" font-size="24" transform="translate(762.6,0) scale(0.94,1) translate(-762.6,0)" >0</text>
<g transform="translate(830.04,1668.3) scale(0.94,1)">
<path d="M763,0 L583,0 L583,1147 Q518,1085 465,1054 Q412,1023 358.5,991.5 Q305,960 223,930 L223,1104 Q371,1174 482.5,1274 Q594,1374 640,1472 L763,1472 Z" transform="scale(0.01172,-0.01172)" fill="#000"/>
<text x="13.35" y="0" font-size="24">0</text>
</g>
<g transform="translate(856.74,1650) scale(0.94,1)">
<path d="M763,0 L583,0 L583,1147 Q518,1085 465,1054 Q412,1023 358.5,991.5 Q305,960 223,930 L223,1104 Q371,1174 482.5,1274 Q594,1374 640,1472 L763,1472 Z" transform="scale(0.01172,-0.01172)" fill="#000"/>
</g>
<g transform="translate(939.04,1668.3) scale(0.94,1)">
<path d="M763,0 L583,0 L583,1147 Q518,1085 465,1054 Q412,1023 358.5,991.5 Q305,960 223,930 L223,1104 Q371,1174 482.5,1274 Q594,1374 640,1472 L763,1472 Z" transform="scale(0.01172,-0.01172)" fill="#000"/>
<text x="13.35" y="0" font-size="24">0</text>
</g>
<text x="966.3" y="1650" font-size="24" transform="translate(967.5,0) scale(0.94,1) translate(-967.5,0)" >2</text>
<g transform="translate(1047.04,1668.3) scale(0.94,1)">
<path d="M763,0 L583,0 L583,1147 Q518,1085 465,1054 Q412,1023 358.5,991.5 Q305,960 223,930 L223,1104 Q371,1174 482.5,1274 Q594,1374 640,1472 L763,1472 Z" transform="scale(0.01172,-0.01172)" fill="#000"/>
<text x="13.35" y="0" font-size="24">0</text>
</g>
<text x="1074.74" y="1650" font-size="24" transform="translate(1075.7,0) scale(0.94,1) translate(-1075.7,0)" >3</text>
<g transform="translate(1122.14,1668.3) scale(0.94,1)">
<path d="M763,0 L583,0 L583,1147 Q518,1085 465,1054 Q412,1023 358.5,991.5 Q305,960 223,930 L223,1104 Q371,1174 482.5,1274 Q594,1374 640,1472 L763,1472 Z" transform="scale(0.01172,-0.01172)" fill="#000"/>
<text x="13.35" y="0" font-size="24">0</text>
</g>
<text x="1149.32" y="1650" font-size="24" transform="translate(1149.8,0) scale(0.94,1) translate(-1149.8,0)" >4</text>
<text x="779.45" y="1712.7" font-size="31" textLength="328.09" lengthAdjust="spacing" >GFP fluorescence (a.u.)</text>
<text transform="translate(623.5,1467.55) rotate(-90)" x="0" y="0" font-size="31" textLength="136.96" lengthAdjust="spacing">Cell count</text>
<rect x="735.1" y="1188.2" width="13.2" height="15.7" fill="none" stroke="#0000ee" stroke-width="2.0"/>
<text x="758.16" y="1203.4" font-size="23" textLength="398.27" lengthAdjust="spacing" >MSC 3 + KIF26B-C virus + control buffer</text>
<rect x="735.1" y="1213.7" width="13.2" height="15.9" fill="none" stroke="#ff0000" stroke-width="2.0"/>
<text x="758.16" y="1228.7" font-size="23" textLength="345.84" lengthAdjust="spacing" >MSC 3 + KIF26B-C virus + WNT5A</text>
<rect x="735.1" y="1239.1" width="13.2" height="15.4" fill="none" stroke="#000" stroke-width="2.0"/>
<text x="758.16" y="1254" font-size="23" textLength="266.32" lengthAdjust="spacing" >MSC 3 control (dotted line)</text>
<text x="330.35" y="598.18" font-size="34.51" style="font-family:'Liberation Serif', serif" textLength="38.44" lengthAdjust="spacingAndGlyphs">(<tspan font-weight="bold">a</tspan>)</text>
<text x="937.17" y="598.18" font-size="34.07" style="font-family:'Liberation Serif', serif" textLength="44.1" lengthAdjust="spacingAndGlyphs">(<tspan font-weight="bold">b</tspan>)</text>
<text x="635.95" y="1763.6" font-size="34.4" style="font-family:'Liberation Serif', serif" textLength="37.23" lengthAdjust="spacingAndGlyphs">(<tspan font-weight="bold">c</tspan>)</text>
</svg></body></html>
